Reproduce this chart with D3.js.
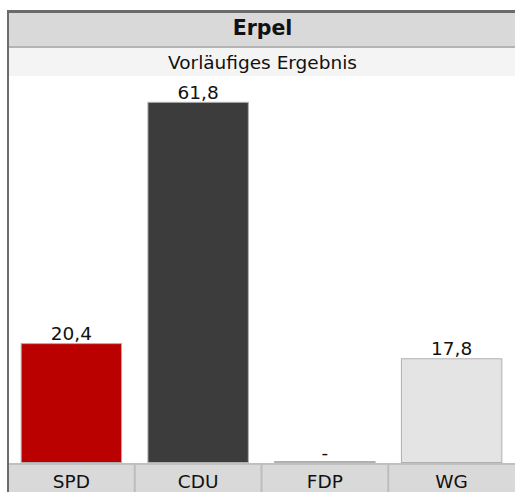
<!DOCTYPE html>
<html><head><meta charset="utf-8">
<script src="https://cdn.jsdelivr.net/npm/d3@7"></script>
<style>body{margin:0;background:#fff}svg{display:block}text{font-family:"DejaVu Sans",sans-serif}</style>
</head><body><svg id="c" width="515" height="492"></svg>
<script>
const title = "Erpel";
const subtitle = "Vorläufiges Ergebnis";
const parties = ["SPD", "CDU", "FDP", "WG"];
const values = [20.4, 61.8, 0, 17.8];
const labels = ["20,4", "61,8", "-", "17,8"];
const colors = ["#bb0000", "#3c3c3c", "#e4e4e4", "#e4e4e4"];

const svg = d3.select("#c");
const L = 8, R = 515, plotTop = 76, base = 463;
const x = d3.scaleBand().domain(parties).range([L, R]).paddingInner(0.2).paddingOuter(0.1);
const xb = d3.scaleBand().domain(parties).range([L, R]);
const y = d3.scaleLinear().domain([0, 66.4]).range([base, plotTop]);

// header bands
svg.append("rect").attr("x", L).attr("y", 10).attr("width", R - L).attr("height", 36).attr("fill", "#d9d9d9");
svg.append("rect").attr("x", L).attr("y", 10).attr("width", R - L).attr("height", 3).attr("fill", "#6b6b6b");
svg.append("rect").attr("x", L).attr("y", 46).attr("width", R - L).attr("height", 2).attr("fill", "#b4b4b4");
svg.append("rect").attr("x", L).attr("y", 48).attr("width", R - L).attr("height", 28).attr("fill", "#f4f4f4");
svg.append("text").attr("x", (L + R) / 2 + 1).attr("y", 34.5).attr("text-anchor", "middle")
  .attr("font-size", 20.5).attr("font-weight", "bold").attr("fill", "#111").text(title);
svg.append("text").attr("x", (L + R) / 2 + 1).attr("y", 68.5).attr("text-anchor", "middle")
  .attr("font-size", 18.5).attr("fill", "#111").text(subtitle);

// bars
const g = svg.append("g");
g.selectAll("rect.bar").data(parties).join("rect").attr("class", "bar")
  .attr("x", d => x(d) + 0.5).attr("width", x.bandwidth() - 1)
  .attr("y", (d, i) => Math.min(y(values[i]), base - 1) - 0.5)
  .attr("height", (d, i) => Math.max(1, base - y(values[i])))
  .attr("fill", (d, i) => colors[i]).attr("stroke", "#b0b0b0").attr("stroke-width", 1);
g.selectAll("text.val").data(parties).join("text").attr("class", "val")
  .attr("x", d => x(d) + x.bandwidth() / 2).attr("y", (d, i) => y(values[i]) - 4)
  .attr("text-anchor", "middle").attr("font-size", 18.5).attr("fill", "#111")
  .text((d, i) => labels[i]);

// category band
svg.append("rect").attr("x", L).attr("y", base).attr("width", R - L).attr("height", 492 - base).attr("fill", "#d9d9d9");
svg.append("rect").attr("x", L).attr("y", base).attr("width", R - L).attr("height", 2).attr("fill", "#c0c0c0");
svg.selectAll("line.div").data(parties.slice(1)).join("line").attr("class", "div")
  .attr("x1", d => xb(d)).attr("x2", d => xb(d)).attr("y1", base).attr("y2", 492)
  .attr("stroke", "#bdbdbd").attr("stroke-width", 2);
svg.selectAll("text.cat").data(parties).join("text").attr("class", "cat")
  .attr("x", d => xb(d) + xb.bandwidth() / 2).attr("y", 488).attr("text-anchor", "middle")
  .attr("font-size", 18.5).attr("fill", "#111").text(d => d);

// left border
svg.append("rect").attr("x", 7).attr("y", 10).attr("width", 2).attr("height", 482).attr("fill", "#6b6b6b");
</script></body></html>
